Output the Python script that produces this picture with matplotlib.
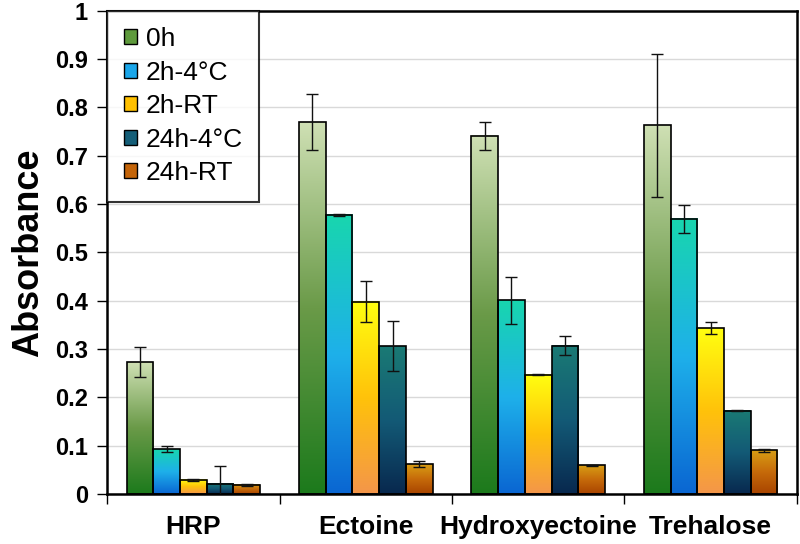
import numpy as np
import matplotlib.pyplot as plt
from matplotlib.colors import LinearSegmentedColormap
from matplotlib.patches import Rectangle

plt.rcParams['font.family'] = ['Liberation Sans', 'DejaVu Sans']

categories = ["HRP", "Ectoine", "Hydroxyectoine", "Trehalose"]
series = ["0h", "2h-4°C", "2h-RT", "24h-4°C", "24h-RT"]

vals_0h = [0.273, 0.770, 0.742, 0.763]
vals_2h_4c = [0.093, 0.578, 0.401, 0.570]
vals_2h_rt = [0.029, 0.398, 0.247, 0.343]
vals_24h_4c = [0.021, 0.306, 0.307, 0.172]
vals_24h_rt = [0.019, 0.062, 0.059, 0.090]

err_0h = [0.031, 0.058, 0.029, 0.148]
err_2h_4c = [0.007, 0.002, 0.049, 0.029]
err_2h_rt = [0.002, 0.042, 0.001, 0.012]
err_24h_4c = [0.036, 0.052, 0.020, 0.001]
err_24h_rt = [0.002, 0.006, 0.001, 0.003]

values = [vals_0h, vals_2h_4c, vals_2h_rt, vals_24h_4c, vals_24h_rt]
errors = [err_0h, err_2h_4c, err_2h_rt, err_24h_4c, err_24h_rt]

# gradient colours: bottom -> top
gradients = [
    ["#1c7a1c", "#6a9a48", "#cfe0b4"],
    ["#0a66d2", "#1eb0ea", "#18d6ae"],
    ["#f4964a", "#ffc20a", "#ffff10"],
    ["#08284e", "#135a76", "#1a7a74"],
    ["#a84400", "#c66a0a", "#d89e14"],
]
legend_colors = ["#5e9a3c", "#1aa6ea", "#ffc000", "#145e78", "#c46408"]

fig = plt.figure(figsize=(8, 5.44), dpi=100)
ax = fig.add_axes([0.134, 0.092, 0.862, 0.888])

n = len(series)
bw = 0.155
x = np.arange(len(categories))
grad = np.linspace(0, 1, 256).reshape(-1, 1)

for i in range(n):
    cmap = LinearSegmentedColormap.from_list("g%d" % i, gradients[i])
    offs = (i - (n - 1) / 2) * bw
    for j in range(len(categories)):
        x0 = x[j] + offs - bw / 2
        h = values[i][j]
        ax.imshow(grad, cmap=cmap, origin="lower", aspect="auto",
                  extent=[x0, x0 + bw, 0, h], zorder=2)
        ax.add_patch(Rectangle((x0, 0), bw, h, fill=False, edgecolor="black",
                               linewidth=1.2, zorder=3))
    ax.errorbar(x + offs, values[i], yerr=errors[i], fmt="none", ecolor="#111111",
                elinewidth=1.0, capsize=4, capthick=1.0, zorder=4)

ax.set_xlim(-0.5, len(categories) - 0.5)
ax.set_ylim(0, 1)
ax.set_yticks(np.arange(0, 1.01, 0.1))
ax.set_yticklabels(["0"] + ["%.1f" % v for v in np.arange(0.1, 0.95, 0.1)] + ["1"],
                   fontsize=17, fontweight="bold")
ax.yaxis.grid(True, color="#d9d9d9", linewidth=1.0, zorder=0)
ax.set_axisbelow(True)

ax.set_xticks(np.arange(-0.5, len(categories), 1.0))
ax.set_xticklabels([])
ax.set_xticks(x, minor=True)
ax.set_xticklabels(categories, minor=True, fontsize=19, fontweight="bold")
ax.tick_params(axis="x", which="minor", length=0, pad=15)
ax.tick_params(axis="x", which="major", length=7, direction="out", width=1)
ax.tick_params(axis="y", length=7, direction="out", width=1, pad=7)

for s in ax.spines.values():
    s.set_linewidth(1.8)
    s.set_color("black")

ax.set_ylabel("Absorbance", fontsize=26, fontweight="bold", labelpad=6)

handles = [Rectangle((0, 0), 1, 1, facecolor=c, edgecolor="black", linewidth=1)
           for c in legend_colors]
leg = ax.legend(handles, series, loc="upper left", fontsize=19, frameon=True,
                fancybox=False, borderaxespad=0, handlelength=0.5, handleheight=0.5,
                handletextpad=0.35, labelspacing=0.36, borderpad=0.62)
leg.get_frame().set_edgecolor("black")
leg.get_frame().set_linewidth(1.5)
leg.set_zorder(5)

fig.savefig("out.png", dpi=100)
